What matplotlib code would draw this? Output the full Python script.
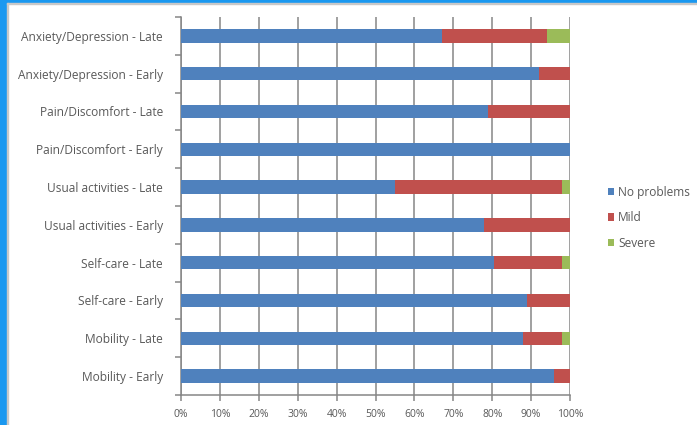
import numpy as np
import matplotlib.pyplot as plt
from matplotlib.patches import Rectangle

# categories listed bottom to top
categories = [
    "Mobility - Early", "Mobility - Late",
    "Self-care - Early", "Self-care - Late",
    "Usual activities - Early", "Usual activities - Late",
    "Pain/Discomfort - Early", "Pain/Discomfort - Late",
    "Anxiety/Depression - Early", "Anxiety/Depression - Late",
]
no_problems = [96, 88, 89, 80.5, 78, 55, 100, 79, 92, 67]
mild = [4, 10, 11, 17.5, 22, 43, 0, 21, 8, 27]
severe = [0, 2, 0, 2, 0, 2, 0, 0, 0, 6]
series_names = ["No problems", "Mild", "Severe"]
colors = ["#4f81bd", "#c0504d", "#9bbb59"]
xticks = np.arange(0, 101, 10)

plt.rcParams["font.family"] = ["Open Sans", "DejaVu Sans"]
text_color = "#595959"
grid_color = "#868686"

fig = plt.figure(figsize=(6.97, 4.25), dpi=100)
ax = fig.add_axes([181 / 697, 1 - 395 / 425, 389 / 697, 378 / 425])

y = np.arange(len(categories))
left = np.zeros(len(categories))
for name, vals, col in zip(series_names, [no_problems, mild, severe], colors):
    ax.barh(y, vals, left=left, height=0.35, color=col, label=name, zorder=3)
    left = left + np.array(vals)

ax.set_xlim(0, 100)
ax.set_ylim(-0.5, len(categories) - 0.5)
ax.set_xticks(xticks)
ax.set_xticklabels([f"{v}%" for v in xticks])
ax.set_yticks(y)
ax.set_yticklabels(categories)
ax.set_yticks(np.arange(-0.5, len(categories), 1), minor=True)

ax.grid(axis="x", color=grid_color, linewidth=1.1, zorder=0)
for s in ["top", "right"]:
    ax.spines[s].set_visible(False)
for s in ["left", "bottom"]:
    ax.spines[s].set_color(grid_color)
    ax.spines[s].set_linewidth(1.1)

ax.tick_params(axis="y", which="major", length=0, pad=13,
               labelsize=8.6, labelcolor=text_color)
ax.tick_params(axis="y", which="minor", length=4, color=grid_color, width=1.1)
ax.tick_params(axis="x", length=4, color=grid_color, width=1.1,
               labelsize=7.5, labelcolor=text_color, pad=6)

leg = ax.legend(loc="upper left", bbox_to_anchor=(603 / 697, 1 - 181 / 425),
                bbox_transform=fig.transFigure, frameon=False,
                handlelength=0.55, handleheight=0.55, handletextpad=0.3,
                labelspacing=1.05, fontsize=8.6, borderaxespad=0)
for t in leg.get_texts():
    t.set_color(text_color)

# window frame
fig.patches.append(Rectangle((0, 0), 7 / 697, 1, transform=fig.transFigure,
                             color="#1a98f0", zorder=10))
fig.patches.append(Rectangle((0, 1 - 3 / 425), 1, 3 / 425,
                             transform=fig.transFigure, color="#1a98f0", zorder=10))
fig.patches.append(Rectangle((7 / 697, 0), 1.2 / 697, 1 - 3 / 425,
                             transform=fig.transFigure, color="#c8c8c8", zorder=10))
fig.patches.append(Rectangle((7 / 697, 1 - 4.2 / 425), 1, 1.2 / 425,
                             transform=fig.transFigure, color="#c8c8c8", zorder=10))

fig.savefig("out.png", dpi=100)
